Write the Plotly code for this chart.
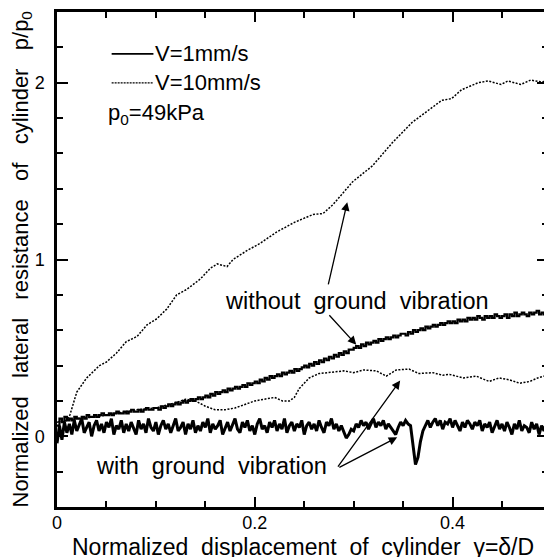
import plotly.graph_objects as go

# ---------------- data ----------------
# sampling grid of the V=1mm/s records
x_v1 = [
    0, .0025, .005, .0075, .01, .0125, .015, .0175, .02, .0225, .025, .0275, .03, .0325, .035, .0375, .04, .0425, .045, .0475,
    .05, .0525, .055, .0575, .06, .0625, .065, .0675, .07, .0725, .075, .0775, .08, .0825, .085, .0875, .09, .0925, .095, .0975,
    .1, .1025, .105, .1075, .11, .1125, .115, .1175, .12, .1225, .125, .1275, .13, .1325, .135, .1375, .14, .1425, .145, .1475,
    .15, .1525, .155, .1575, .16, .1625, .165, .1675, .17, .1725, .175, .1775, .18, .1825, .185, .1875, .19, .1925, .195, .1975,
    .2, .2025, .205, .2075, .21, .2125, .215, .2175, .22, .2225, .225, .2275, .23, .2325, .235, .2375, .24, .2425, .245, .2475,
    .25, .2525, .255, .2575, .26, .2625, .265, .2675, .27, .2725, .275, .2775, .28, .2825, .285, .2875, .29, .2925, .295, .2975,
    .3, .3025, .305, .3075, .31, .3125, .315, .3175, .32, .3225, .325, .3275, .33, .3325, .335, .3375, .34, .3425, .345, .3475,
    .35, .3525, .355, .3575, .36, .3625, .365, .3675, .37, .3725, .375, .3775, .38, .3825, .385, .3875, .39, .3925, .395, .3975,
    .4, .4025, .405, .4075, .41, .4125, .415, .4175, .42, .4225, .425, .4275, .43, .4325, .435, .4375, .44, .4425, .445, .4475,
    .45, .4525, .455, .4575, .46, .4625, .465, .4675, .47, .4725, .475, .4775, .48, .4825, .485, .4875, .49, .4925, .495, .4975,
    .5,
]

# V=1mm/s, without ground vibration
p_v1_without = [
    0.06, 0.10, 0.08, 0.11, 0.09, 0.10, 0.09, 0.11, 0.10, 0.10, 0.11, 0.10, 0.12, 0.11, 0.11, 0.12, 0.11, 0.12, 0.13, 0.12,
    0.12, 0.13, 0.12, 0.13, 0.14, 0.13, 0.13, 0.14, 0.13, 0.14, 0.15, 0.14, 0.14, 0.15, 0.14, 0.15, 0.16, 0.15, 0.15, 0.16,
    0.16, 0.15, 0.17, 0.16, 0.17, 0.18, 0.17, 0.18, 0.19, 0.18, 0.19, 0.20, 0.19, 0.20, 0.21, 0.20, 0.21, 0.22, 0.21, 0.22,
    0.23, 0.22, 0.24, 0.23, 0.25, 0.24, 0.25, 0.26, 0.25, 0.27, 0.26, 0.27, 0.28, 0.27, 0.28, 0.29, 0.28, 0.30, 0.29, 0.30,
    0.31, 0.30, 0.32, 0.31, 0.33, 0.32, 0.34, 0.33, 0.34, 0.35, 0.34, 0.36, 0.35, 0.36, 0.37, 0.36, 0.38, 0.37, 0.38, 0.39,
    0.40, 0.39, 0.41, 0.40, 0.42, 0.41, 0.43, 0.42, 0.44, 0.43, 0.45, 0.44, 0.46, 0.45, 0.47, 0.46, 0.48, 0.47, 0.49, 0.49,
    0.50, 0.51, 0.50, 0.52, 0.51, 0.53, 0.52, 0.53, 0.54, 0.53, 0.55, 0.54, 0.55, 0.56, 0.55, 0.56, 0.57, 0.56, 0.57, 0.58,
    0.58, 0.57, 0.59, 0.58, 0.60, 0.59, 0.60, 0.61, 0.60, 0.62, 0.61, 0.62, 0.63, 0.62, 0.63, 0.64, 0.63, 0.64, 0.65, 0.64,
    0.65, 0.64, 0.66, 0.65, 0.66, 0.65, 0.67, 0.66, 0.67, 0.66, 0.68, 0.67, 0.66, 0.68, 0.67, 0.68, 0.67, 0.69, 0.68, 0.67,
    0.68, 0.69, 0.67, 0.69, 0.68, 0.70, 0.68, 0.69, 0.70, 0.69, 0.68, 0.70, 0.69, 0.70, 0.71, 0.69, 0.70, 0.69, 0.71, 0.70,
    0.70,
]

# V=1mm/s, with ground vibration
p_v1_with = [
    -0.04, 0.06, -0.02, 0.08, 0.02,
    0.07, 0.01, 0.09, 0.03, 0.06, 0.10, 0.02, 0.05, 0.08, 0.00, 0.06, 0.09, 0.03, 0.07, 0.02, 0.08, 0.05, 0.10, 0.01, 0.06,
    0.04, 0.09, 0.02, 0.07, 0.03, 0.08, 0.05, 0.01, 0.09, 0.04, 0.07, 0.02, 0.10, 0.05, 0.03, 0.08, 0.01, 0.06, 0.09, 0.04,
    0.07, 0.02, 0.06, 0.10, 0.03, 0.05, 0.08, 0.01, 0.07, 0.04, 0.09, 0.02, 0.06, 0.03, 0.08, 0.05, 0.10, 0.02, 0.07, 0.04,
    0.06, 0.09, 0.01, 0.05, 0.08, 0.03, 0.07, 0.10, 0.04, 0.02, 0.08, 0.05, 0.09, 0.03, 0.06, 0.01, 0.07, 0.10, 0.04, 0.06,
    0.02, 0.08, 0.05, 0.09, 0.03, 0.07, 0.04, 0.10, 0.02, 0.06, 0.08, 0.03, 0.07, 0.05, 0.09, 0.01, 0.06, 0.08, 0.04, 0.07,
    0.03, 0.09, 0.05, 0.02, 0.08, 0.06, 0.10, 0.04, 0.07, 0.03, 0.06,
    0.02, -0.01, 0.01, 0.04, 0.03,
    0.07, 0.05, 0.09, 0.06, 0.08, 0.04, 0.07, 0.10, 0.05, 0.08, 0.06, 0.09, 0.04, 0.07, 0.05, 0.03,
    0.01,
    0.05, 0.08, 0.06, 0.09, 0.07,
    0.06, -0.05, -0.16, -0.12, -0.03, 0.03, 0.06, 0.09,
    0.05, 0.08, 0.10, 0.06, 0.09, 0.04, 0.08, 0.07, 0.10, 0.05, 0.09, 0.06, 0.03, 0.08, 0.05, 0.09, 0.07, 0.04, 0.08, 0.06,
    0.09, 0.03, 0.07, 0.05, 0.08, 0.02, 0.06, 0.09, 0.04, 0.07, 0.03, 0.08, 0.05, 0.01, 0.07, 0.04, 0.09, 0.03, 0.06, 0.05,
    0.02, 0.08, 0.04, 0.07, 0.01, 0.06, 0.03, 0.08, 0.05, 0.04,
]

# V=10mm/s, without ground vibration
x_v10_without = [0.005, 0.01, 0.013, 0.02, 0.03, 0.043, 0.05, 0.06, 0.07, 0.081, 0.091, 0.101, 0.111, 0.121,
                 0.131, 0.145, 0.155, 0.162, 0.172, 0.178, 0.192, 0.205, 0.222, 0.24, 0.259, 0.269, 0.279,
                 0.299, 0.319, 0.339, 0.359, 0.379, 0.389, 0.399, 0.409, 0.426, 0.436, 0.449, 0.456, 0.469,
                 0.479, 0.489, 0.5]
p_v10_without = [0.08, 0.09, 0.12, 0.25, 0.33, 0.40, 0.42, 0.47, 0.535, 0.565, 0.63, 0.665, 0.72, 0.80,
                 0.83, 0.89, 0.95, 0.975, 0.96, 1.0, 1.05, 1.09, 1.155, 1.21, 1.255, 1.26, 1.31,
                 1.44, 1.53, 1.66, 1.775, 1.86, 1.90, 1.91, 1.96, 2.0, 2.01, 1.99, 2.01, 1.99,
                 2.015, 2.005, 2.01]

# V=10mm/s, with ground vibration
x_v10_with = [0.0, 0.01, 0.02, 0.04, 0.06, 0.08, 0.1, 0.12, 0.13, 0.14, 0.15, 0.16, 0.17, 0.18, 0.19, 0.2,
              0.21, 0.22, 0.228, 0.235, 0.24, 0.245, 0.25, 0.255, 0.265, 0.28, 0.29, 0.3, 0.31, 0.323,
              0.333, 0.343, 0.356, 0.366, 0.38, 0.39, 0.397, 0.411, 0.424, 0.437, 0.447, 0.457, 0.468,
              0.478, 0.486, 0.492, 0.5]
p_v10_with = [0.08, 0.09, 0.10, 0.11, 0.13, 0.15, 0.16, 0.19, 0.21, 0.20, 0.17, 0.15, 0.15, 0.16, 0.18, 0.20,
              0.21, 0.22, 0.20, 0.20, 0.22, 0.27, 0.30, 0.33, 0.355, 0.365, 0.37, 0.36, 0.375, 0.37,
              0.34, 0.375, 0.38, 0.355, 0.36, 0.345, 0.35, 0.33, 0.34, 0.31, 0.33, 0.32, 0.30,
              0.31, 0.33, 0.34, 0.33]

x_tick_vals = [0, 0.2, 0.4]
x_tick_text = ["0", "0.2", "0.4"]
y_tick_vals = [0, 1, 2]
y_tick_text = ["0", "1", "2"]

FONT = "Arial, Liberation Sans, sans-serif"
SP2 = "\u00a0\u00a0"
SP3 = "\u00a0\u00a0\u00a0"

fig = go.Figure()

fig.add_trace(go.Scatter(x=x_v1, y=p_v1_with, mode="lines",
                         line=dict(color="black", width=3.0), showlegend=False))
fig.add_trace(go.Scatter(x=x_v1, y=p_v1_without, mode="lines",
                         line=dict(color="black", width=2.2, shape="hv"), showlegend=False))
fig.add_trace(go.Scatter(x=x_v10_without, y=p_v10_without, mode="lines",
                         line=dict(color="black", width=1.5, dash="2px,1.5px"), showlegend=False))
fig.add_trace(go.Scatter(x=x_v10_with, y=p_v10_with, mode="lines",
                         line=dict(color="black", width=1.5, dash="2px,1.5px"), showlegend=False))

# legend keys (drawn manually)
fig.add_shape(type="line", xref="paper", yref="paper", x0=0.1113, x1=0.1964, y0=0.9155, y1=0.9155,
              line=dict(color="black", width=1.6))
fig.add_shape(type="line", xref="paper", yref="paper", x0=0.1113, x1=0.1964, y0=0.857, y1=0.857,
              line=dict(color="black", width=1.3, dash="2px,1px"))

ann = []
ann.append(dict(text="V=1mm/s", xref="paper", yref="paper", x=0.196, y=0.9155,
                xanchor="left", yanchor="middle", showarrow=False, font=dict(size=22)))
ann.append(dict(text="V=10mm/s", xref="paper", yref="paper", x=0.196, y=0.857,
                xanchor="left", yanchor="middle", showarrow=False, font=dict(size=22)))
ann.append(dict(text="p<sub>0</sub>=49kPa", xref="paper", yref="paper", x=0.099, y=0.793,
                xanchor="left", yanchor="middle", showarrow=False, font=dict(size=22)))
ann.append(dict(text="without" + SP2 + "ground" + SP2 + "vibration", xref="x", yref="y",
                x=0.3036, y=0.765, xanchor="center", yanchor="middle", showarrow=False,
                font=dict(size=23.5)))
ann.append(dict(text="with" + SP2 + "ground" + SP2 + "vibration", xref="x", yref="y",
                x=0.156, y=-0.168, xanchor="center", yanchor="middle", showarrow=False,
                font=dict(size=23.5)))

# arrows: (tip x, tip y, tail x, tail y)
arrows = [(0.2935, 1.324, 0.274, 0.851),
          (0.3026, 0.518, 0.274, 0.693),
          (0.347, 0.315, 0.283, -0.18),
          (0.344, -0.006, 0.284, -0.18)]
for tx, ty, sx, sy in arrows:
    ann.append(dict(text="", x=tx, y=ty, ax=sx, ay=sy, xref="x", yref="y", axref="x", ayref="y",
                    showarrow=True, arrowhead=2, arrowsize=1.3, arrowwidth=1.3, arrowcolor="black"))

# axis titles
ann.append(dict(text="Normalized" + SP2 + "displacement" + SP2 + "of" + SP2 + "cylinder" + SP2 + "γ=δ/D",
                xref="paper", yref="paper", x=0.5, y=0, yshift=-40, xanchor="center", yanchor="middle",
                showarrow=False, font=dict(size=23)))
ann.append(dict(text="Normalized" + SP3 + "lateral" + SP3 + "resistance" + SP3 + "of" + SP3 + "cylinder" + SP3
                + "p/p<sub>0</sub>",
                xref="paper", yref="paper", x=0, y=0.5, xshift=-36, xanchor="center", yanchor="middle",
                textangle=-90, showarrow=False, font=dict(size=22)))

# the page body adds an 8px offset; the figure is sized/margined to compensate
fig.update_layout(
    width=544, height=549,
    margin=dict(l=49, r=1, t=2, b=50),
    paper_bgcolor="white", plot_bgcolor="white",
    font=dict(family=FONT, color="black", size=18),
    showlegend=False,
    annotations=ann,
)

axis_common = dict(showgrid=False, zeroline=False, showline=True, linecolor="black", linewidth=2.5,
                   mirror="allticks", ticks="inside", tickcolor="black", tickwidth=2,
                   ticklabeloverflow="allow",
                   tickfont=dict(size=18, family=FONT, color="black"))

fig.update_xaxes(range=[0, 0.4965], tickvals=x_tick_vals, ticktext=x_tick_text, ticklen=10,
                 minor=dict(dtick=0.05, tick0=0, ticks="inside", ticklen=6, tickcolor="black", tickwidth=1.5),
                 ticklabelstandoff=-2, **axis_common)
fig.update_yaxes(range=[-0.4, 2.4], tickvals=y_tick_vals, ticktext=y_tick_text, ticklen=11,
                 minor=dict(dtick=0.2, tick0=0, ticks="inside", ticklen=6, tickcolor="black", tickwidth=1.5),
                 ticklabelstandoff=6, **axis_common)

fig.write_html("out.html")
